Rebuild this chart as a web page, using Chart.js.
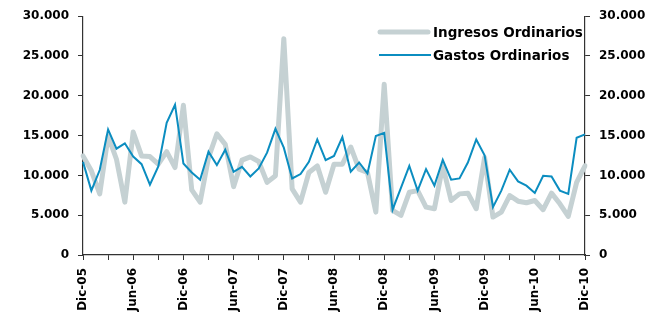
<!DOCTYPE html>
<html>
<head>
<meta charset="utf-8">
<script src="https://cdn.jsdelivr.net/npm/chart.js@4.4.1/dist/chart.umd.min.js"></script>
<style>
html,body{margin:0;padding:0;background:#fff;}
#wrap{width:665px;height:315px;position:relative;}
</style>
</head>
<body>
<div id="wrap"><canvas id="c" width="665" height="315"></canvas></div>
<script>
const categories = [
 'Dic-05','Ene-06','Feb-06','Mar-06','Abr-06','May-06','Jun-06','Jul-06','Ago-06','Sep-06','Oct-06','Nov-06',
 'Dic-06','Ene-07','Feb-07','Mar-07','Abr-07','May-07','Jun-07','Jul-07','Ago-07','Sep-07','Oct-07','Nov-07',
 'Dic-07','Ene-08','Feb-08','Mar-08','Abr-08','May-08','Jun-08','Jul-08','Ago-08','Sep-08','Oct-08','Nov-08',
 'Dic-08','Ene-09','Feb-09','Mar-09','Abr-09','May-09','Jun-09','Jul-09','Ago-09','Sep-09','Oct-09','Nov-09',
 'Dic-09','Ene-10','Feb-10','Mar-10','Abr-10','May-10','Jun-10','Jul-10','Ago-10','Sep-10','Oct-10','Nov-10',
 'Dic-10'
];
const ingresosOrdinarios = [
 12450,10580,7680,14940,12030,6640,15440,12450,12370,11410,12980,10990,
 18800,8180,6640,12240,15230,13900,8590,11910,12320,11740,9120,9960,
 27180,8300,6640,10370,11200,7880,11410,11410,13570,10790,10370,5390,
 21450,5600,4980,7880,8090,6010,5810,11200,6850,7680,7770,5810,
 12240,4770,5390,7470,6760,6560,6850,5690,7770,6430,4850,9120,
 11200
];
const gastosOrdinarios = [
 11700,8090,10670,15770,13360,14030,12370,11410,8840,11120,16600,18880,
 11490,10370,9460,12980,11290,13230,10460,11080,9870,10870,12860,15850,
 13480,9620,10170,11700,14520,11910,12450,14810,10460,11620,10250,14940,
 15350,5690,8430,11200,8090,10790,8710,11950,9460,9620,11620,14520,
 12530,6010,8090,10710,9250,8710,7800,9960,9870,8090,7680,14730,
 15150
];
const yTicks = [0,5000,10000,15000,20000,25000,30000];
const seriesNames = ['Ingresos Ordinarios','Gastos Ordinarios'];

const FONT = {family:'"DejaVu Sans", Arial, sans-serif', size:12, weight:'bold'};
const AXIS = '#333333';
const fmt = v => v === 0 ? '0' : v.toLocaleString('de-DE');

const legendPlugin = {
  id:'customLegend',
  afterDraw(chart){
    const ctx = chart.ctx;
    const items = chart.data.datasets;
    const ys = [32, 55];
    ctx.save();
    items.forEach((ds,i)=>{
      ctx.beginPath();
      ctx.strokeStyle = ds.borderColor;
      ctx.lineWidth = ds.borderWidth;
      ctx.lineCap = i===0 ? 'round' : 'butt';
      ctx.moveTo(i===0?380:379, ys[i]);
      ctx.lineTo(i===0?428:431, ys[i]);
      ctx.stroke();
      ctx.fillStyle = '#000';
      ctx.font = 'bold 13.5px "DejaVu Sans", Arial, sans-serif';
      ctx.textBaseline = 'middle';
      ctx.textAlign = 'left';
      ctx.fillText(ds.label, 433, ys[i]+1);
    });
    ctx.restore();
  }
};

new Chart(document.getElementById('c'), {
  type:'line',
  data:{
    labels: categories,
    datasets:[
      {label:seriesNames[0], data:ingresosOrdinarios, borderColor:'#c5d1d3', borderWidth:5, pointRadius:0, tension:0, yAxisID:'y', order:2, borderJoinStyle:'round', borderCapStyle:'round'},
      {label:seriesNames[1], data:gastosOrdinarios, borderColor:'#0b8dc0', borderWidth:2, pointRadius:0, tension:0, yAxisID:'y', order:1}
    ]
  },
  options:{
    responsive:false,
    animation:false,
    layout:{padding:{top:14,left:0,right:0,bottom:0}},
    plugins:{legend:{display:false}, tooltip:{enabled:false}},
    scales:{
      x:{
        type:'category',
        offset:false,
        afterFit(s){ s.height = 60; },
        border:{display:true,color:AXIS,width:1.2},
        grid:{drawOnChartArea:false, drawTicks:true, tickLength:5,
              tickColor:(c)=> (c.index % 3 === 0) ? AXIS : 'rgba(0,0,0,0)'},
        ticks:{autoSkip:false, maxRotation:90, minRotation:90, padding:8, color:'#000', font:FONT,
               callback:(v,i)=> (i % 6 === 0) ? categories[i] : ''}
      },
      y:{
        position:'left', min:0, max:30000,
        afterFit(s){ s.width = 83; },
        afterBuildTicks(s){ s.ticks = yTicks.map(v=>({value:v})); },
        border:{display:true,color:AXIS,width:1.2},
        grid:{drawOnChartArea:false, tickLength:5, tickColor:AXIS},
        ticks:{color:'#000', font:FONT, padding:9, callback:v=>fmt(v)}
      },
      y2:{
        position:'right', min:0, max:30000,
        afterFit(s){ s.width = 80; },
        afterBuildTicks(s){ s.ticks = yTicks.map(v=>({value:v})); },
        border:{display:true,color:AXIS,width:1.2},
        grid:{drawOnChartArea:false, tickLength:5, tickColor:AXIS},
        ticks:{color:'#000', font:FONT, padding:9, callback:v=>fmt(v)}
      }
    }
  },
  plugins:[legendPlugin]
});
</script>
</body>
</html>
